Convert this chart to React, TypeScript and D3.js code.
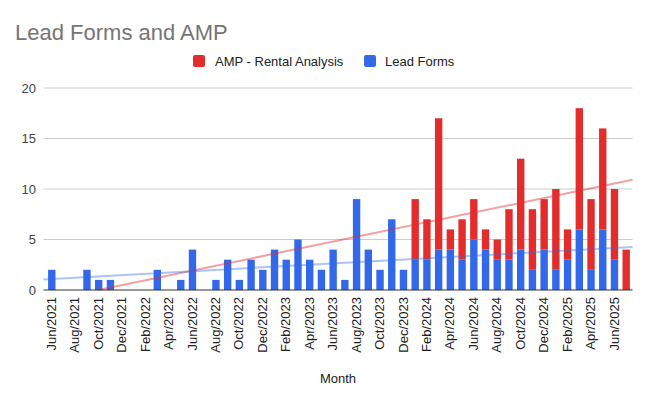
import React from 'react';
import * as d3 from 'd3';

// monthly counts, Jun 2021 .. Jul 2025
const months = [
  'Jun/2021', 'Jul/2021', 'Aug/2021', 'Sep/2021', 'Oct/2021', 'Nov/2021', 'Dec/2021',
  'Jan/2022', 'Feb/2022', 'Mar/2022', 'Apr/2022', 'May/2022', 'Jun/2022', 'Jul/2022',
  'Aug/2022', 'Sep/2022', 'Oct/2022', 'Nov/2022', 'Dec/2022',
  'Jan/2023', 'Feb/2023', 'Mar/2023', 'Apr/2023', 'May/2023', 'Jun/2023', 'Jul/2023',
  'Aug/2023', 'Sep/2023', 'Oct/2023', 'Nov/2023', 'Dec/2023',
  'Jan/2024', 'Feb/2024', 'Mar/2024', 'Apr/2024', 'May/2024', 'Jun/2024', 'Jul/2024',
  'Aug/2024', 'Sep/2024', 'Oct/2024', 'Nov/2024', 'Dec/2024',
  'Jan/2025', 'Feb/2025', 'Mar/2025', 'Apr/2025', 'May/2025', 'Jun/2025', 'Jul/2025',
];

const leadForms = [
  2, 0, 0, 2, 1, 1, 0,
  0, 0, 2, 0, 1, 4, 0, 1, 3, 1, 3, 2,
  4, 3, 5, 3, 2, 4, 1, 9, 4, 2, 7, 2,
  3, 3, 4, 4, 3, 5, 4, 3, 3, 4, 2, 4,
  2, 3, 6, 2, 6, 3, 0,
];

const ampRental = [
  0, 0, 0, 0, 0, 0, 0,
  0, 0, 0, 0, 0, 0, 0, 0, 0, 0, 0, 0,
  0, 0, 0, 0, 0, 0, 0, 0, 0, 0, 0, 0,
  6, 4, 13, 2, 4, 4, 2, 2, 5, 9, 6, 5,
  8, 3, 12, 7, 10, 7, 4,
];

const yTicks = [0, 5, 10, 15, 20];

const BLUE = '#3369e8';
const RED = '#e32d2d';

function linFit(ys: number[]) {
  const xs = ys.map((_, i) => i);
  const mx = d3.mean(xs) as number;
  const my = d3.mean(ys) as number;
  let sxy = 0, sxx = 0;
  xs.forEach((x, i) => {
    sxy += (x - mx) * (ys[i] - my);
    sxx += (x - mx) * (x - mx);
  });
  const slope = sxy / sxx;
  return (x: number) => my + slope * (x - mx);
}

export default function App() {
  const width = 649;
  const height = 396;
  const left = 43.5;
  const right = 632.5;
  const top = 88;
  const bottom = 290;

  const x = d3.scaleBand<string>().domain(months).range([46, 632]).paddingInner(0.37).paddingOuter(0.18);
  const y = d3.scaleLinear().domain([0, 20]).range([bottom, top]);

  const step = x.step();
  const cx = (i: number) => (x(months[0]) as number) + x.bandwidth() / 2 + i * step;
  const ix = (px: number) => (px - cx(0)) / step;

  const totals = leadForms.map((v, i) => v + ampRental[i]);
  const blueFit = linFit(leadForms);
  const redFit = linFit(totals);

  const trendPath = (fit: (x: number) => number) => {
    const i0 = ix(left);
    const i1 = ix(right);
    let start = i0;
    const a = fit(i0), b = fit(i1);
    if (a < 0 && b > 0) start = i0 + (i1 - i0) * (-a / (b - a));
    const line = d3.line<number>().x(i => cx(i)).y(i => y(fit(i)));
    return line([start, i1]) as string;
  };

  const font = 'Arial, "Liberation Sans", sans-serif';

  return (
    <svg width={width} height={height} style={{ position: 'absolute', left: 0, top: 0, background: '#fff' }} fontFamily={font}>
      <text x={15} y={40} fontSize={22} fill="#757575">Lead Forms and AMP</text>

      {/* legend */}
      <rect x={193} y={55} width={12} height={12} rx={2} fill={RED} />
      <text x={215} y={65.5} fontSize={13} fill="#222">AMP - Rental Analysis</text>
      <rect x={364} y={55} width={12} height={12} rx={2} fill={BLUE} />
      <text x={385} y={65.5} fontSize={13} fill="#222">Lead Forms</text>

      {/* grid + y ticks */}
      {yTicks.map(t => (
        <g key={t}>
          {t > 0 && <line x1={left} x2={right} y1={y(t)} y2={y(t)} stroke="#cccccc" strokeWidth={1} />}
          <text x={36} y={y(t)} dy="0.35em" textAnchor="end" fontSize={13} fill="#444">{t}</text>
        </g>
      ))}

      {/* stacked bars */}
      {months.map((m, i) => (
        <g key={m}>
          {leadForms[i] > 0 && (
            <rect x={x(m)} width={x.bandwidth()} y={y(leadForms[i])} height={y(0) - y(leadForms[i])} fill={BLUE} />
          )}
          {ampRental[i] > 0 && (
            <rect x={x(m)} width={x.bandwidth()} y={y(totals[i])} height={y(leadForms[i]) - y(totals[i])} fill={RED} />
          )}
        </g>
      ))}

      {/* trendlines */}
      <path d={trendPath(redFit)} fill="none" stroke={RED} strokeOpacity={0.45} strokeWidth={2} />
      <path d={trendPath(blueFit)} fill="none" stroke={BLUE} strokeOpacity={0.4} strokeWidth={2} />

      <line x1={left} x2={right} y1={y(0)} y2={y(0)} stroke="#333" strokeWidth={1} />

      {/* x labels, every other month */}
      {months.map((m, i) => i % 2 === 0 && (
        <text key={m} transform={`translate(${cx(i) - 0.5},297) rotate(-90)`} dy="0.35em" textAnchor="end" fontSize={13} fill="#222">{m}</text>
      ))}

      <text x={(left + right) / 2} y={383} textAnchor="middle" fontSize={13} fill="#222">Month</text>
    </svg>
  );
}
